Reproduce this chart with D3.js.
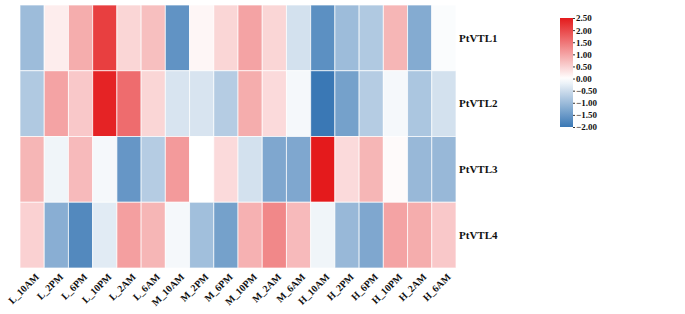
<!DOCTYPE html>
<html>
<head>
<meta charset="utf-8">
<script src="https://cdn.jsdelivr.net/npm/d3@7"></script>
<style>
  body { margin: 0; background: #fff; }
  text { font-family: "Liberation Serif", "Times New Roman", serif; font-weight: bold; fill: #111; }
</style>
</head>
<body>
<div id="heat"></div>
<script>
var samples = ["L_10AM","L_2PM","L_6PM","L_10PM","L_2AM","L_6AM",
               "M_10AM","M_2PM","M_6PM","M_10PM","M_2AM","M_6AM",
               "H_10AM","H_2PM","H_6PM","H_10PM","H_2AM","H_6AM"];
var genes = ["PtVTL1","PtVTL2","PtVTL3","PtVTL4"];

var PtVTL1 = [-1.0, 0.2, 0.9, 2.1, 0.45, 0.7, -1.6, 0.1, 0.45, 1.0, 0.45, -0.45, -1.65, -1.0, -0.8, 0.8, -1.25, -0.05];
var PtVTL2 = [-0.8, 1.0, 0.6, 2.4, 1.6, 0.45, -0.4, -0.4, -0.75, 0.9, 0.4, -0.1, -2.0, -1.4, -0.75, -0.1, -0.85, -0.45];
var PtVTL3 = [0.8, -0.15, 0.75, -0.1, -1.55, -0.75, 1.1, 0.0, 0.4, -0.45, -1.3, -1.3, 2.5, 0.4, 0.8, 0.05, -1.05, -1.05];
var PtVTL4 = [0.5, -1.2, -1.75, -0.3, 1.05, 0.8, -0.1, -0.95, -1.4, 0.85, 1.3, 0.75, -0.15, -1.05, -1.3, 1.0, 0.9, 0.6];
var legendTicks = [2.5, 2.0, 1.5, 1.0, 0.5, 0.0, -0.5, -1.0, -1.5, -2.0];

var rows = [PtVTL1, PtVTL2, PtVTL3, PtVTL4];
var cells = [];
rows.forEach(function(r, i) {
  r.forEach(function(v, j) { cells.push({gene: genes[i], sample: samples[j], value: v}); });
});

var width = 685, height = 314;
var svg = d3.select("#heat").append("svg")
  .attr("width", width)
  .attr("height", height);

var x = d3.scaleBand().domain(samples).range([20, 456]);
var y = d3.scaleBand().domain(genes).range([5, 268]);

var color = d3.scaleLinear()
  .domain([-2, 0, 2.5])
  .range(["#3a78b5", "#ffffff", "#e41a1c"])
  .interpolate(d3.interpolateRgb)
  .clamp(true);

svg.append("g").selectAll("rect")
  .data(cells)
  .enter().append("rect")
  .attr("x", function(d) { return x(d.sample); })
  .attr("y", function(d) { return y(d.gene); })
  .attr("width", x.bandwidth())
  .attr("height", y.bandwidth())
  .attr("fill", function(d) { return color(d.value); })
  .attr("stroke", "#ffffff")
  .attr("stroke-opacity", 0.7)
  .attr("stroke-width", 1);

// row labels
svg.append("g").selectAll("text")
  .data(genes)
  .enter().append("text")
  .attr("x", 459)
  .attr("y", function(d) { return y(d) + y.bandwidth() / 2; })
  .attr("dy", "0.35em")
  .style("font-size", "11px")
  .text(function(d) { return d; });

// column labels
svg.append("g").selectAll("text")
  .data(samples)
  .enter().append("text")
  .attr("transform", function(d) {
    return "translate(" + (x(d) + x.bandwidth() / 2 + 5) + ",275) rotate(-45)";
  })
  .attr("text-anchor", "end")
  .attr("dy", "0.35em")
  .style("font-size", "10px")
  .text(function(d) { return d; });

// legend
var ly = d3.scaleLinear().domain([-2, 2.5]).range([127, 18]);
var defs = svg.append("defs");
var grad = defs.append("linearGradient")
  .attr("id", "lg").attr("x1", "0").attr("y1", "1").attr("x2", "0").attr("y2", "0");
d3.range(0, 1.0001, 0.05).forEach(function(t) {
  var v = -2 + t * 4.5;
  grad.append("stop").attr("offset", t).attr("stop-color", color(v));
});
svg.append("rect")
  .attr("x", 560).attr("y", ly(2.5))
  .attr("width", 13).attr("height", ly(-2) - ly(2.5))
  .attr("fill", "url(#lg)");

var lax = svg.append("g")
  .attr("transform", "translate(573,0)")
  .call(d3.axisRight(ly).tickValues(legendTicks).tickSize(2).tickPadding(1)
    .tickFormat(d3.format(".2f")));
lax.select(".domain").remove();
lax.selectAll("line").attr("stroke", "#333");
lax.selectAll("text")
  .style("font-family", "'Liberation Serif', 'Times New Roman', serif")
  .style("font-weight", "bold")
  .style("font-size", "9px")
  .attr("fill", "#111");
</script>
</body>
</html>
